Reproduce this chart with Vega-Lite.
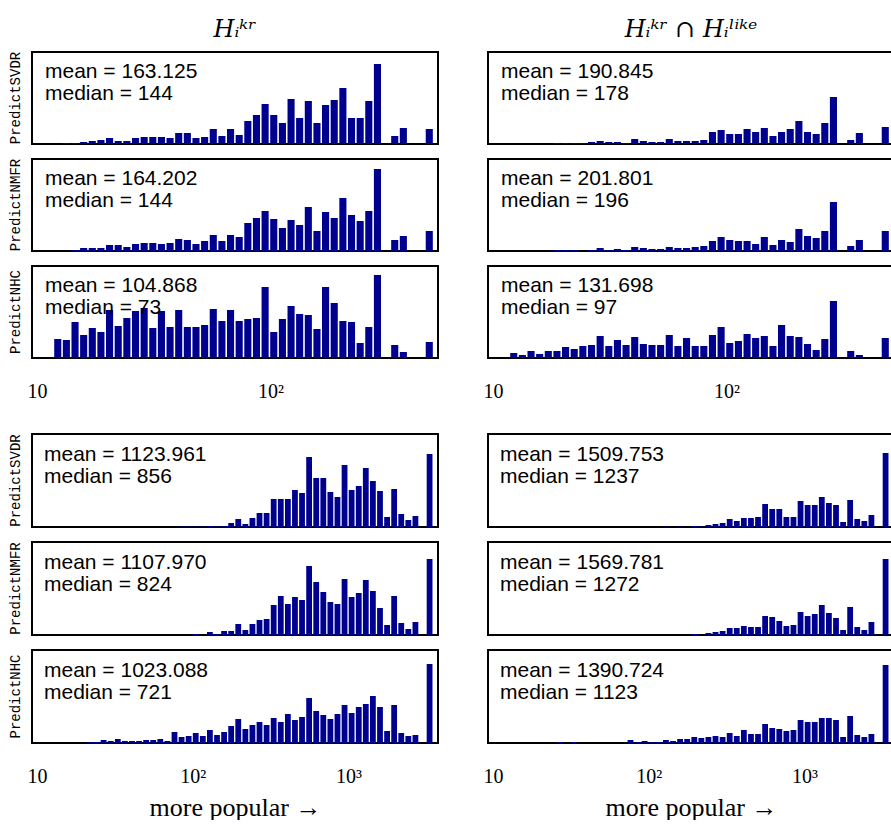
{
"$schema": "https://vega.github.io/schema/vega-lite/v6.json",
"padding": {"left": 8, "top": 18, "right": 0, "bottom": 0},
"background": "white",
"config": {
  "view": {"stroke": "#000", "strokeWidth": 2},
  "axis": {"domain": false, "ticks": false, "grid": false, "labelFont": "Liberation Serif", "labelFontSize": 20, "labelColor": "#000", "labelFlush": false, "labelOverlap": false, "labelBound": false, "labelPadding": 22, "titleFont": "Liberation Serif", "titleFontSize": 26, "titleFontWeight": "normal", "titleColor": "#000", "titlePadding": 8}
},
"resolve": {"scale": {"x": "independent", "y": "independent"}},
"spacing": 32,
"datasets": {
"top": [
{"set":"A","method":"PredictSVDR","mean":"mean = 163.125","median":"median = 144"},
{"set":"A","method":"PredictNMFR","mean":"mean = 164.202","median":"median = 144"},
{"set":"A","method":"PredictNHC","mean":"mean = 104.868","median":"median = 73"},
{"set":"B","method":"PredictSVDR","mean":"mean = 190.845","median":"median = 178"},
{"set":"B","method":"PredictNMFR","mean":"mean = 201.801","median":"median = 196"},
{"set":"B","method":"PredictNHC","mean":"mean = 131.698","median":"median = 97"},
{"set":"A","method":"PredictSVDR","pop":13.36,"n":1},{"set":"A","method":"PredictSVDR","pop":14.55,"n":1},{"set":"A","method":"PredictSVDR","pop":15.84,"n":2},{"set":"A","method":"PredictSVDR","pop":17.25,"n":3},{"set":"A","method":"PredictSVDR","pop":18.78,"n":4},{"set":"A","method":"PredictSVDR","pop":20.45,"n":6},{"set":"A","method":"PredictSVDR","pop":22.27,"n":3},{"set":"A","method":"PredictSVDR","pop":24.25,"n":3},{"set":"A","method":"PredictSVDR","pop":26.41,"n":6},{"set":"A","method":"PredictSVDR","pop":28.76,"n":7},{"set":"A","method":"PredictSVDR","pop":31.32,"n":7},{"set":"A","method":"PredictSVDR","pop":34.1,"n":7},{"set":"A","method":"PredictSVDR","pop":37.13,"n":6},{"set":"A","method":"PredictSVDR","pop":40.43,"n":11},{"set":"A","method":"PredictSVDR","pop":44.03,"n":11},{"set":"A","method":"PredictSVDR","pop":47.94,"n":6},{"set":"A","method":"PredictSVDR","pop":52.2,"n":7},{"set":"A","method":"PredictSVDR","pop":56.85,"n":15},{"set":"A","method":"PredictSVDR","pop":61.9,"n":8},{"set":"A","method":"PredictSVDR","pop":67.4,"n":15},{"set":"A","method":"PredictSVDR","pop":73.4,"n":9},{"set":"A","method":"PredictSVDR","pop":79.92,"n":23},{"set":"A","method":"PredictSVDR","pop":87.03,"n":29},{"set":"A","method":"PredictSVDR","pop":94.77,"n":40},{"set":"A","method":"PredictSVDR","pop":103.2,"n":29},{"set":"A","method":"PredictSVDR","pop":112.4,"n":21},{"set":"A","method":"PredictSVDR","pop":122.4,"n":45},{"set":"A","method":"PredictSVDR","pop":133.2,"n":26},{"set":"A","method":"PredictSVDR","pop":145.1,"n":43},{"set":"A","method":"PredictSVDR","pop":158,"n":21},{"set":"A","method":"PredictSVDR","pop":172,"n":39},{"set":"A","method":"PredictSVDR","pop":187.3,"n":44},{"set":"A","method":"PredictSVDR","pop":204,"n":56},{"set":"A","method":"PredictSVDR","pop":222.1,"n":26},{"set":"A","method":"PredictSVDR","pop":241.9,"n":26},{"set":"A","method":"PredictSVDR","pop":263.4,"n":43},{"set":"A","method":"PredictSVDR","pop":286.8,"n":80},{"set":"A","method":"PredictSVDR","pop":340.1,"n":8},{"set":"A","method":"PredictSVDR","pop":370.3,"n":16},{"set":"A","method":"PredictSVDR","pop":478.1,"n":15},
{"set":"A","method":"PredictNMFR","pop":14.55,"n":1},{"set":"A","method":"PredictNMFR","pop":15.84,"n":3},{"set":"A","method":"PredictNMFR","pop":17.25,"n":3},{"set":"A","method":"PredictNMFR","pop":18.78,"n":3},{"set":"A","method":"PredictNMFR","pop":20.45,"n":6},{"set":"A","method":"PredictNMFR","pop":22.27,"n":6},{"set":"A","method":"PredictNMFR","pop":24.25,"n":4},{"set":"A","method":"PredictNMFR","pop":26.41,"n":7},{"set":"A","method":"PredictNMFR","pop":28.76,"n":8},{"set":"A","method":"PredictNMFR","pop":31.32,"n":8},{"set":"A","method":"PredictNMFR","pop":34.1,"n":7},{"set":"A","method":"PredictNMFR","pop":37.13,"n":8},{"set":"A","method":"PredictNMFR","pop":40.43,"n":12},{"set":"A","method":"PredictNMFR","pop":44.03,"n":11},{"set":"A","method":"PredictNMFR","pop":47.94,"n":7},{"set":"A","method":"PredictNMFR","pop":52.2,"n":10},{"set":"A","method":"PredictNMFR","pop":56.85,"n":16},{"set":"A","method":"PredictNMFR","pop":61.9,"n":10},{"set":"A","method":"PredictNMFR","pop":67.4,"n":16},{"set":"A","method":"PredictNMFR","pop":73.4,"n":14},{"set":"A","method":"PredictNMFR","pop":79.92,"n":28},{"set":"A","method":"PredictNMFR","pop":87.03,"n":33},{"set":"A","method":"PredictNMFR","pop":94.77,"n":40},{"set":"A","method":"PredictNMFR","pop":103.2,"n":32},{"set":"A","method":"PredictNMFR","pop":112.4,"n":23},{"set":"A","method":"PredictNMFR","pop":122.4,"n":31},{"set":"A","method":"PredictNMFR","pop":133.2,"n":26},{"set":"A","method":"PredictNMFR","pop":145.1,"n":44},{"set":"A","method":"PredictNMFR","pop":158,"n":20},{"set":"A","method":"PredictNMFR","pop":172,"n":39},{"set":"A","method":"PredictNMFR","pop":187.3,"n":33},{"set":"A","method":"PredictNMFR","pop":204,"n":53},{"set":"A","method":"PredictNMFR","pop":222.1,"n":36},{"set":"A","method":"PredictNMFR","pop":241.9,"n":30},{"set":"A","method":"PredictNMFR","pop":263.4,"n":40},{"set":"A","method":"PredictNMFR","pop":286.8,"n":82},{"set":"A","method":"PredictNMFR","pop":340.1,"n":11},{"set":"A","method":"PredictNMFR","pop":370.3,"n":15},{"set":"A","method":"PredictNMFR","pop":478.1,"n":20},
{"set":"A","method":"PredictNHC","pop":12.27,"n":19},{"set":"A","method":"PredictNHC","pop":13.36,"n":18},{"set":"A","method":"PredictNHC","pop":14.55,"n":36},{"set":"A","method":"PredictNHC","pop":15.84,"n":23},{"set":"A","method":"PredictNHC","pop":17.25,"n":30},{"set":"A","method":"PredictNHC","pop":18.78,"n":26},{"set":"A","method":"PredictNHC","pop":20.45,"n":48},{"set":"A","method":"PredictNHC","pop":22.27,"n":32},{"set":"A","method":"PredictNHC","pop":24.25,"n":40},{"set":"A","method":"PredictNHC","pop":26.41,"n":47},{"set":"A","method":"PredictNHC","pop":28.76,"n":50},{"set":"A","method":"PredictNHC","pop":31.32,"n":30},{"set":"A","method":"PredictNHC","pop":34.1,"n":47},{"set":"A","method":"PredictNHC","pop":37.13,"n":31},{"set":"A","method":"PredictNHC","pop":40.43,"n":48},{"set":"A","method":"PredictNHC","pop":44.03,"n":31},{"set":"A","method":"PredictNHC","pop":47.94,"n":31},{"set":"A","method":"PredictNHC","pop":52.2,"n":33},{"set":"A","method":"PredictNHC","pop":56.85,"n":49},{"set":"A","method":"PredictNHC","pop":61.9,"n":37},{"set":"A","method":"PredictNHC","pop":67.4,"n":48},{"set":"A","method":"PredictNHC","pop":73.4,"n":37},{"set":"A","method":"PredictNHC","pop":79.92,"n":39},{"set":"A","method":"PredictNHC","pop":87.03,"n":40},{"set":"A","method":"PredictNHC","pop":94.77,"n":71},{"set":"A","method":"PredictNHC","pop":103.2,"n":26},{"set":"A","method":"PredictNHC","pop":112.4,"n":39},{"set":"A","method":"PredictNHC","pop":122.4,"n":52},{"set":"A","method":"PredictNHC","pop":133.2,"n":44},{"set":"A","method":"PredictNHC","pop":145.1,"n":43},{"set":"A","method":"PredictNHC","pop":158,"n":29},{"set":"A","method":"PredictNHC","pop":172,"n":71},{"set":"A","method":"PredictNHC","pop":187.3,"n":55},{"set":"A","method":"PredictNHC","pop":204,"n":37},{"set":"A","method":"PredictNHC","pop":222.1,"n":36},{"set":"A","method":"PredictNHC","pop":241.9,"n":15},{"set":"A","method":"PredictNHC","pop":263.4,"n":31},{"set":"A","method":"PredictNHC","pop":286.8,"n":83},{"set":"A","method":"PredictNHC","pop":340.1,"n":13},{"set":"A","method":"PredictNHC","pop":370.3,"n":6},{"set":"A","method":"PredictNHC","pop":478.1,"n":16},
{"set":"B","method":"PredictSVDR","pop":18.78,"n":1},{"set":"B","method":"PredictSVDR","pop":20.45,"n":1},{"set":"B","method":"PredictSVDR","pop":22.27,"n":1},{"set":"B","method":"PredictSVDR","pop":24.25,"n":1},{"set":"B","method":"PredictSVDR","pop":26.41,"n":2},{"set":"B","method":"PredictSVDR","pop":28.76,"n":3},{"set":"B","method":"PredictSVDR","pop":31.32,"n":2},{"set":"B","method":"PredictSVDR","pop":34.1,"n":2},{"set":"B","method":"PredictSVDR","pop":37.13,"n":1},{"set":"B","method":"PredictSVDR","pop":40.43,"n":5},{"set":"B","method":"PredictSVDR","pop":44.03,"n":3},{"set":"B","method":"PredictSVDR","pop":47.94,"n":2},{"set":"B","method":"PredictSVDR","pop":52.2,"n":2},{"set":"B","method":"PredictSVDR","pop":56.85,"n":5},{"set":"B","method":"PredictSVDR","pop":61.9,"n":3},{"set":"B","method":"PredictSVDR","pop":67.4,"n":3},{"set":"B","method":"PredictSVDR","pop":73.4,"n":3},{"set":"B","method":"PredictSVDR","pop":79.92,"n":4},{"set":"B","method":"PredictSVDR","pop":87.03,"n":12},{"set":"B","method":"PredictSVDR","pop":94.77,"n":14},{"set":"B","method":"PredictSVDR","pop":103.2,"n":10},{"set":"B","method":"PredictSVDR","pop":112.4,"n":10},{"set":"B","method":"PredictSVDR","pop":122.4,"n":15},{"set":"B","method":"PredictSVDR","pop":133.2,"n":12},{"set":"B","method":"PredictSVDR","pop":145.1,"n":16},{"set":"B","method":"PredictSVDR","pop":158,"n":8},{"set":"B","method":"PredictSVDR","pop":172,"n":12},{"set":"B","method":"PredictSVDR","pop":187.3,"n":15},{"set":"B","method":"PredictSVDR","pop":204,"n":23},{"set":"B","method":"PredictSVDR","pop":222.1,"n":12},{"set":"B","method":"PredictSVDR","pop":241.9,"n":10},{"set":"B","method":"PredictSVDR","pop":263.4,"n":21},{"set":"B","method":"PredictSVDR","pop":286.8,"n":47},{"set":"B","method":"PredictSVDR","pop":340.1,"n":4},{"set":"B","method":"PredictSVDR","pop":370.3,"n":11},{"set":"B","method":"PredictSVDR","pop":478.1,"n":17},
{"set":"B","method":"PredictNMFR","pop":18.78,"n":1},{"set":"B","method":"PredictNMFR","pop":20.45,"n":1},{"set":"B","method":"PredictNMFR","pop":22.27,"n":1},{"set":"B","method":"PredictNMFR","pop":26.41,"n":1},{"set":"B","method":"PredictNMFR","pop":28.76,"n":3},{"set":"B","method":"PredictNMFR","pop":31.32,"n":1},{"set":"B","method":"PredictNMFR","pop":34.1,"n":2},{"set":"B","method":"PredictNMFR","pop":37.13,"n":1},{"set":"B","method":"PredictNMFR","pop":40.43,"n":4},{"set":"B","method":"PredictNMFR","pop":44.03,"n":3},{"set":"B","method":"PredictNMFR","pop":47.94,"n":2},{"set":"B","method":"PredictNMFR","pop":52.2,"n":2},{"set":"B","method":"PredictNMFR","pop":56.85,"n":4},{"set":"B","method":"PredictNMFR","pop":61.9,"n":3},{"set":"B","method":"PredictNMFR","pop":67.4,"n":3},{"set":"B","method":"PredictNMFR","pop":73.4,"n":4},{"set":"B","method":"PredictNMFR","pop":79.92,"n":5},{"set":"B","method":"PredictNMFR","pop":87.03,"n":10},{"set":"B","method":"PredictNMFR","pop":94.77,"n":14},{"set":"B","method":"PredictNMFR","pop":103.2,"n":11},{"set":"B","method":"PredictNMFR","pop":112.4,"n":10},{"set":"B","method":"PredictNMFR","pop":122.4,"n":10},{"set":"B","method":"PredictNMFR","pop":133.2,"n":7},{"set":"B","method":"PredictNMFR","pop":145.1,"n":14},{"set":"B","method":"PredictNMFR","pop":158,"n":6},{"set":"B","method":"PredictNMFR","pop":172,"n":11},{"set":"B","method":"PredictNMFR","pop":187.3,"n":9},{"set":"B","method":"PredictNMFR","pop":204,"n":22},{"set":"B","method":"PredictNMFR","pop":222.1,"n":15},{"set":"B","method":"PredictNMFR","pop":241.9,"n":13},{"set":"B","method":"PredictNMFR","pop":263.4,"n":20},{"set":"B","method":"PredictNMFR","pop":286.8,"n":49},{"set":"B","method":"PredictNMFR","pop":340.1,"n":5},{"set":"B","method":"PredictNMFR","pop":370.3,"n":11},{"set":"B","method":"PredictNMFR","pop":478.1,"n":20},
{"set":"B","method":"PredictNHC","pop":12.27,"n":5},{"set":"B","method":"PredictNHC","pop":13.36,"n":3},{"set":"B","method":"PredictNHC","pop":14.55,"n":7},{"set":"B","method":"PredictNHC","pop":15.84,"n":4},{"set":"B","method":"PredictNHC","pop":17.25,"n":7},{"set":"B","method":"PredictNHC","pop":18.78,"n":7},{"set":"B","method":"PredictNHC","pop":20.45,"n":11},{"set":"B","method":"PredictNHC","pop":22.27,"n":9},{"set":"B","method":"PredictNHC","pop":24.25,"n":12},{"set":"B","method":"PredictNHC","pop":26.41,"n":13},{"set":"B","method":"PredictNHC","pop":28.76,"n":22},{"set":"B","method":"PredictNHC","pop":31.32,"n":12},{"set":"B","method":"PredictNHC","pop":34.1,"n":18},{"set":"B","method":"PredictNHC","pop":37.13,"n":13},{"set":"B","method":"PredictNHC","pop":40.43,"n":21},{"set":"B","method":"PredictNHC","pop":44.03,"n":14},{"set":"B","method":"PredictNHC","pop":47.94,"n":13},{"set":"B","method":"PredictNHC","pop":52.2,"n":13},{"set":"B","method":"PredictNHC","pop":56.85,"n":23},{"set":"B","method":"PredictNHC","pop":61.9,"n":12},{"set":"B","method":"PredictNHC","pop":67.4,"n":20},{"set":"B","method":"PredictNHC","pop":73.4,"n":12},{"set":"B","method":"PredictNHC","pop":79.92,"n":12},{"set":"B","method":"PredictNHC","pop":87.03,"n":23},{"set":"B","method":"PredictNHC","pop":94.77,"n":31},{"set":"B","method":"PredictNHC","pop":103.2,"n":15},{"set":"B","method":"PredictNHC","pop":112.4,"n":17},{"set":"B","method":"PredictNHC","pop":122.4,"n":24},{"set":"B","method":"PredictNHC","pop":133.2,"n":20},{"set":"B","method":"PredictNHC","pop":145.1,"n":22},{"set":"B","method":"PredictNHC","pop":158,"n":12},{"set":"B","method":"PredictNHC","pop":172,"n":33},{"set":"B","method":"PredictNHC","pop":187.3,"n":22},{"set":"B","method":"PredictNHC","pop":204,"n":21},{"set":"B","method":"PredictNHC","pop":222.1,"n":14},{"set":"B","method":"PredictNHC","pop":241.9,"n":8},{"set":"B","method":"PredictNHC","pop":263.4,"n":19},{"set":"B","method":"PredictNHC","pop":286.8,"n":57},{"set":"B","method":"PredictNHC","pop":340.1,"n":7},{"set":"B","method":"PredictNHC","pop":370.3,"n":3},{"set":"B","method":"PredictNHC","pop":478.1,"n":20}
],
"bot": [
{"set":"A","method":"PredictSVDR","mean":"mean = 1123.961","median":"median = 856"},
{"set":"A","method":"PredictNMFR","mean":"mean = 1107.970","median":"median = 824"},
{"set":"A","method":"PredictNHC","mean":"mean = 1023.088","median":"median = 721"},
{"set":"B","method":"PredictSVDR","mean":"mean = 1509.753","median":"median = 1237"},
{"set":"B","method":"PredictNMFR","mean":"mean = 1569.781","median":"median = 1272"},
{"set":"B","method":"PredictNHC","mean":"mean = 1390.724","median":"median = 1123"},
{"set":"A","method":"PredictSVDR","pop":84.78,"n":0.5},{"set":"A","method":"PredictSVDR","pop":94.15,"n":0.5},{"set":"A","method":"PredictSVDR","pop":104.5,"n":0.5},{"set":"A","method":"PredictSVDR","pop":116.1,"n":0.5},{"set":"A","method":"PredictSVDR","pop":128.9,"n":1},{"set":"A","method":"PredictSVDR","pop":143.2,"n":0.5},{"set":"A","method":"PredictSVDR","pop":159,"n":1},{"set":"A","method":"PredictSVDR","pop":176.5,"n":4},{"set":"A","method":"PredictSVDR","pop":196,"n":8},{"set":"A","method":"PredictSVDR","pop":217.7,"n":3},{"set":"A","method":"PredictSVDR","pop":241.7,"n":9},{"set":"A","method":"PredictSVDR","pop":268.4,"n":14},{"set":"A","method":"PredictSVDR","pop":298.1,"n":14},{"set":"A","method":"PredictSVDR","pop":331,"n":28},{"set":"A","method":"PredictSVDR","pop":367.6,"n":28},{"set":"A","method":"PredictSVDR","pop":408.2,"n":28},{"set":"A","method":"PredictSVDR","pop":453.3,"n":37},{"set":"A","method":"PredictSVDR","pop":503.3,"n":34},{"set":"A","method":"PredictSVDR","pop":558.9,"n":70},{"set":"A","method":"PredictSVDR","pop":620.7,"n":49},{"set":"A","method":"PredictSVDR","pop":689.3,"n":49},{"set":"A","method":"PredictSVDR","pop":765.4,"n":35},{"set":"A","method":"PredictSVDR","pop":849.9,"n":30},{"set":"A","method":"PredictSVDR","pop":943.8,"n":62},{"set":"A","method":"PredictSVDR","pop":1048,"n":37},{"set":"A","method":"PredictSVDR","pop":1164,"n":41},{"set":"A","method":"PredictSVDR","pop":1292,"n":59},{"set":"A","method":"PredictSVDR","pop":1435,"n":46},{"set":"A","method":"PredictSVDR","pop":1594,"n":36},{"set":"A","method":"PredictSVDR","pop":1770,"n":10},{"set":"A","method":"PredictSVDR","pop":1965,"n":38},{"set":"A","method":"PredictSVDR","pop":2182,"n":13},{"set":"A","method":"PredictSVDR","pop":2423,"n":7},{"set":"A","method":"PredictSVDR","pop":2691,"n":11},{"set":"A","method":"PredictSVDR","pop":3318,"n":73},
{"set":"A","method":"PredictNMFR","pop":104.5,"n":1},{"set":"A","method":"PredictNMFR","pop":128.9,"n":3},{"set":"A","method":"PredictNMFR","pop":143.2,"n":1},{"set":"A","method":"PredictNMFR","pop":159,"n":4},{"set":"A","method":"PredictNMFR","pop":176.5,"n":4},{"set":"A","method":"PredictNMFR","pop":196,"n":11},{"set":"A","method":"PredictNMFR","pop":217.7,"n":5},{"set":"A","method":"PredictNMFR","pop":241.7,"n":11},{"set":"A","method":"PredictNMFR","pop":268.4,"n":15},{"set":"A","method":"PredictNMFR","pop":298.1,"n":16},{"set":"A","method":"PredictNMFR","pop":331,"n":30},{"set":"A","method":"PredictNMFR","pop":367.6,"n":39},{"set":"A","method":"PredictNMFR","pop":408.2,"n":31},{"set":"A","method":"PredictNMFR","pop":453.3,"n":38},{"set":"A","method":"PredictNMFR","pop":503.3,"n":35},{"set":"A","method":"PredictNMFR","pop":558.9,"n":69},{"set":"A","method":"PredictNMFR","pop":620.7,"n":53},{"set":"A","method":"PredictNMFR","pop":689.3,"n":43},{"set":"A","method":"PredictNMFR","pop":765.4,"n":33},{"set":"A","method":"PredictNMFR","pop":849.9,"n":31},{"set":"A","method":"PredictNMFR","pop":943.8,"n":56},{"set":"A","method":"PredictNMFR","pop":1048,"n":38},{"set":"A","method":"PredictNMFR","pop":1164,"n":42},{"set":"A","method":"PredictNMFR","pop":1292,"n":55},{"set":"A","method":"PredictNMFR","pop":1435,"n":44},{"set":"A","method":"PredictNMFR","pop":1594,"n":27},{"set":"A","method":"PredictNMFR","pop":1770,"n":10},{"set":"A","method":"PredictNMFR","pop":1965,"n":39},{"set":"A","method":"PredictNMFR","pop":2182,"n":12},{"set":"A","method":"PredictNMFR","pop":2423,"n":6},{"set":"A","method":"PredictNMFR","pop":2691,"n":13},{"set":"A","method":"PredictNMFR","pop":3318,"n":76},
{"set":"A","method":"PredictNHC","pop":21.71,"n":1},{"set":"A","method":"PredictNHC","pop":24.11,"n":1},{"set":"A","method":"PredictNHC","pop":26.78,"n":3},{"set":"A","method":"PredictNHC","pop":29.73,"n":2},{"set":"A","method":"PredictNHC","pop":33.02,"n":4},{"set":"A","method":"PredictNHC","pop":36.67,"n":2},{"set":"A","method":"PredictNHC","pop":40.72,"n":2},{"set":"A","method":"PredictNHC","pop":45.21,"n":2},{"set":"A","method":"PredictNHC","pop":50.21,"n":3},{"set":"A","method":"PredictNHC","pop":55.76,"n":3},{"set":"A","method":"PredictNHC","pop":61.91,"n":4},{"set":"A","method":"PredictNHC","pop":68.75,"n":2},{"set":"A","method":"PredictNHC","pop":76.35,"n":11},{"set":"A","method":"PredictNHC","pop":84.78,"n":6},{"set":"A","method":"PredictNHC","pop":94.15,"n":7},{"set":"A","method":"PredictNHC","pop":104.5,"n":10},{"set":"A","method":"PredictNHC","pop":116.1,"n":7},{"set":"A","method":"PredictNHC","pop":128.9,"n":13},{"set":"A","method":"PredictNHC","pop":143.2,"n":8},{"set":"A","method":"PredictNHC","pop":159,"n":11},{"set":"A","method":"PredictNHC","pop":176.5,"n":17},{"set":"A","method":"PredictNHC","pop":196,"n":24},{"set":"A","method":"PredictNHC","pop":217.7,"n":14},{"set":"A","method":"PredictNHC","pop":241.7,"n":18},{"set":"A","method":"PredictNHC","pop":268.4,"n":21},{"set":"A","method":"PredictNHC","pop":298.1,"n":18},{"set":"A","method":"PredictNHC","pop":331,"n":25},{"set":"A","method":"PredictNHC","pop":367.6,"n":21},{"set":"A","method":"PredictNHC","pop":408.2,"n":29},{"set":"A","method":"PredictNHC","pop":453.3,"n":23},{"set":"A","method":"PredictNHC","pop":503.3,"n":26},{"set":"A","method":"PredictNHC","pop":558.9,"n":45},{"set":"A","method":"PredictNHC","pop":620.7,"n":32},{"set":"A","method":"PredictNHC","pop":689.3,"n":28},{"set":"A","method":"PredictNHC","pop":765.4,"n":24},{"set":"A","method":"PredictNHC","pop":849.9,"n":29},{"set":"A","method":"PredictNHC","pop":943.8,"n":38},{"set":"A","method":"PredictNHC","pop":1048,"n":30},{"set":"A","method":"PredictNHC","pop":1164,"n":36},{"set":"A","method":"PredictNHC","pop":1292,"n":39},{"set":"A","method":"PredictNHC","pop":1435,"n":47},{"set":"A","method":"PredictNHC","pop":1594,"n":36},{"set":"A","method":"PredictNHC","pop":1770,"n":12},{"set":"A","method":"PredictNHC","pop":1965,"n":38},{"set":"A","method":"PredictNHC","pop":2182,"n":10},{"set":"A","method":"PredictNHC","pop":2423,"n":7},{"set":"A","method":"PredictNHC","pop":2691,"n":8},{"set":"A","method":"PredictNHC","pop":3318,"n":79},
{"set":"B","method":"PredictSVDR","pop":128.9,"n":0.5},{"set":"B","method":"PredictSVDR","pop":159,"n":0.5},{"set":"B","method":"PredictSVDR","pop":196,"n":1},{"set":"B","method":"PredictSVDR","pop":217.7,"n":0.5},{"set":"B","method":"PredictSVDR","pop":241.7,"n":2},{"set":"B","method":"PredictSVDR","pop":268.4,"n":3},{"set":"B","method":"PredictSVDR","pop":298.1,"n":4},{"set":"B","method":"PredictSVDR","pop":331,"n":8},{"set":"B","method":"PredictSVDR","pop":367.6,"n":6},{"set":"B","method":"PredictSVDR","pop":408.2,"n":9},{"set":"B","method":"PredictSVDR","pop":453.3,"n":9},{"set":"B","method":"PredictSVDR","pop":503.3,"n":10},{"set":"B","method":"PredictSVDR","pop":558.9,"n":23},{"set":"B","method":"PredictSVDR","pop":620.7,"n":18},{"set":"B","method":"PredictSVDR","pop":689.3,"n":18},{"set":"B","method":"PredictSVDR","pop":765.4,"n":10},{"set":"B","method":"PredictSVDR","pop":849.9,"n":10},{"set":"B","method":"PredictSVDR","pop":943.8,"n":26},{"set":"B","method":"PredictSVDR","pop":1048,"n":22},{"set":"B","method":"PredictSVDR","pop":1164,"n":22},{"set":"B","method":"PredictSVDR","pop":1292,"n":30},{"set":"B","method":"PredictSVDR","pop":1435,"n":24},{"set":"B","method":"PredictSVDR","pop":1594,"n":22},{"set":"B","method":"PredictSVDR","pop":1770,"n":5},{"set":"B","method":"PredictSVDR","pop":1965,"n":27},{"set":"B","method":"PredictSVDR","pop":2182,"n":8},{"set":"B","method":"PredictSVDR","pop":2423,"n":6},{"set":"B","method":"PredictSVDR","pop":2691,"n":12},{"set":"B","method":"PredictSVDR","pop":3318,"n":74},
{"set":"B","method":"PredictNMFR","pop":196,"n":1},{"set":"B","method":"PredictNMFR","pop":241.7,"n":2},{"set":"B","method":"PredictNMFR","pop":268.4,"n":3},{"set":"B","method":"PredictNMFR","pop":298.1,"n":4},{"set":"B","method":"PredictNMFR","pop":331,"n":7},{"set":"B","method":"PredictNMFR","pop":367.6,"n":7},{"set":"B","method":"PredictNMFR","pop":408.2,"n":9},{"set":"B","method":"PredictNMFR","pop":453.3,"n":8},{"set":"B","method":"PredictNMFR","pop":503.3,"n":8},{"set":"B","method":"PredictNMFR","pop":558.9,"n":19},{"set":"B","method":"PredictNMFR","pop":620.7,"n":18},{"set":"B","method":"PredictNMFR","pop":689.3,"n":14},{"set":"B","method":"PredictNMFR","pop":765.4,"n":9},{"set":"B","method":"PredictNMFR","pop":849.9,"n":10},{"set":"B","method":"PredictNMFR","pop":943.8,"n":23},{"set":"B","method":"PredictNMFR","pop":1048,"n":19},{"set":"B","method":"PredictNMFR","pop":1164,"n":21},{"set":"B","method":"PredictNMFR","pop":1292,"n":30},{"set":"B","method":"PredictNMFR","pop":1435,"n":22},{"set":"B","method":"PredictNMFR","pop":1594,"n":17},{"set":"B","method":"PredictNMFR","pop":1770,"n":5},{"set":"B","method":"PredictNMFR","pop":1965,"n":28},{"set":"B","method":"PredictNMFR","pop":2182,"n":8},{"set":"B","method":"PredictNMFR","pop":2423,"n":5},{"set":"B","method":"PredictNMFR","pop":2691,"n":13},{"set":"B","method":"PredictNMFR","pop":3318,"n":76},
{"set":"B","method":"PredictNHC","pop":26.78,"n":1},{"set":"B","method":"PredictNHC","pop":33.02,"n":1},{"set":"B","method":"PredictNHC","pop":76.35,"n":3},{"set":"B","method":"PredictNHC","pop":84.78,"n":1},{"set":"B","method":"PredictNHC","pop":94.15,"n":2},{"set":"B","method":"PredictNHC","pop":104.5,"n":1},{"set":"B","method":"PredictNHC","pop":116.1,"n":1},{"set":"B","method":"PredictNHC","pop":128.9,"n":3},{"set":"B","method":"PredictNHC","pop":143.2,"n":2},{"set":"B","method":"PredictNHC","pop":159,"n":4},{"set":"B","method":"PredictNHC","pop":176.5,"n":4},{"set":"B","method":"PredictNHC","pop":196,"n":6},{"set":"B","method":"PredictNHC","pop":217.7,"n":5},{"set":"B","method":"PredictNHC","pop":241.7,"n":6},{"set":"B","method":"PredictNHC","pop":268.4,"n":7},{"set":"B","method":"PredictNHC","pop":298.1,"n":6},{"set":"B","method":"PredictNHC","pop":331,"n":10},{"set":"B","method":"PredictNHC","pop":367.6,"n":7},{"set":"B","method":"PredictNHC","pop":408.2,"n":13},{"set":"B","method":"PredictNHC","pop":453.3,"n":9},{"set":"B","method":"PredictNHC","pop":503.3,"n":9},{"set":"B","method":"PredictNHC","pop":558.9,"n":19},{"set":"B","method":"PredictNHC","pop":620.7,"n":15},{"set":"B","method":"PredictNHC","pop":689.3,"n":14},{"set":"B","method":"PredictNHC","pop":765.4,"n":12},{"set":"B","method":"PredictNHC","pop":849.9,"n":13},{"set":"B","method":"PredictNHC","pop":943.8,"n":23},{"set":"B","method":"PredictNHC","pop":1048,"n":21},{"set":"B","method":"PredictNHC","pop":1164,"n":21},{"set":"B","method":"PredictNHC","pop":1292,"n":25},{"set":"B","method":"PredictNHC","pop":1435,"n":25},{"set":"B","method":"PredictNHC","pop":1594,"n":23},{"set":"B","method":"PredictNHC","pop":1770,"n":6},{"set":"B","method":"PredictNHC","pop":1965,"n":27},{"set":"B","method":"PredictNHC","pop":2182,"n":8},{"set":"B","method":"PredictNHC","pop":2423,"n":6},{"set":"B","method":"PredictNHC","pop":2691,"n":9},{"set":"B","method":"PredictNHC","pop":3318,"n":78}
]
},
"vconcat": [
{
  "data": {"name": "top"},
  "facet": {
    "row": {"field": "method", "type": "nominal", "sort": ["PredictSVDR", "PredictNMFR", "PredictNHC"], "header": {"title": null, "labelAngle": -90, "labelOrient": "left", "labelFont": "Liberation Mono", "labelFontSize": 14, "labelPadding": 1, "labelColor": "#000"}},
    "column": {"field": "set", "type": "nominal", "header": {"title": null, "labelExpr": "datum.value == 'A' ? 'Hᵢᵏʳ' : 'Hᵢᵏʳ ∩ Hᵢˡⁱᵏᵉ'", "labelFont": "DejaVu Serif", "labelFontStyle": "italic", "labelFontSize": 24, "labelPadding": 9, "labelColor": "#000"}}
  },
  "spacing": {"row": 13, "column": 48},
  "spec": {
    "width": 406, "height": 92,
    "layer": [
      {"transform": [{"filter": "isValid(datum.n)"}],
       "mark": {"type": "bar", "size": 7.1, "color": "#00008F", "clip": true},
       "encoding": {
         "x": {"field": "pop", "type": "quantitative", "title": null, "scale": {"type": "log", "domain": [10, 496], "nice": false}, "axis": {"values": [10, 100], "labelExpr": "datum.value == 10 ? '10' : '10²'"}},
         "y": {"field": "n", "type": "quantitative", "scale": {"domain": [0, 92], "nice": false}, "axis": null}}},
      {"transform": [{"filter": "isValid(datum.mean)"}],
       "mark": {"type": "text", "align": "left", "baseline": "alphabetic", "font": "Liberation Sans", "fontSize": 21, "color": "#000"},
       "encoding": {"x": {"value": 13}, "y": {"value": 26}, "text": {"field": "mean"}}},
      {"transform": [{"filter": "isValid(datum.median)"}],
       "mark": {"type": "text", "align": "left", "baseline": "alphabetic", "font": "Liberation Sans", "fontSize": 21, "color": "#000"},
       "encoding": {"x": {"value": 13}, "y": {"value": 48}, "text": {"field": "median"}}}
    ]
  }
},
{
  "data": {"name": "bot"},
  "facet": {
    "row": {"field": "method", "type": "nominal", "sort": ["PredictSVDR", "PredictNMFR", "PredictNHC"], "header": {"title": null, "labelAngle": -90, "labelOrient": "left", "labelFont": "Liberation Mono", "labelFontSize": 14, "labelPadding": 1, "labelColor": "#000"}},
    "column": {"field": "set", "type": "nominal", "header": {"title": null, "labels": false}}
  },
  "spacing": {"row": 13, "column": 48},
  "spec": {
    "width": 406, "height": 93,
    "layer": [
      {"transform": [{"filter": "isValid(datum.n)"}],
       "mark": {"type": "bar", "size": 5.8, "color": "#00008F", "clip": true},
       "encoding": {
         "x": {"field": "pop", "type": "quantitative", "title": "more popular →", "scale": {"type": "log", "domain": [10, 3490], "nice": false}, "axis": {"values": [10, 100, 1000], "labelExpr": "datum.value == 10 ? '10' : datum.value == 100 ? '10²' : '10³'", "labelPadding": 22}},
         "y": {"field": "n", "type": "quantitative", "scale": {"domain": [0, 93], "nice": false}, "axis": null}}},
      {"transform": [{"filter": "isValid(datum.mean)"}],
       "mark": {"type": "text", "align": "left", "baseline": "alphabetic", "font": "Liberation Sans", "fontSize": 21, "color": "#000"},
       "encoding": {"x": {"value": 12}, "y": {"value": 27}, "text": {"field": "mean"}}},
      {"transform": [{"filter": "isValid(datum.median)"}],
       "mark": {"type": "text", "align": "left", "baseline": "alphabetic", "font": "Liberation Sans", "fontSize": 21, "color": "#000"},
       "encoding": {"x": {"value": 12}, "y": {"value": 49}, "text": {"field": "median"}}}
    ]
  }
}
]
}
